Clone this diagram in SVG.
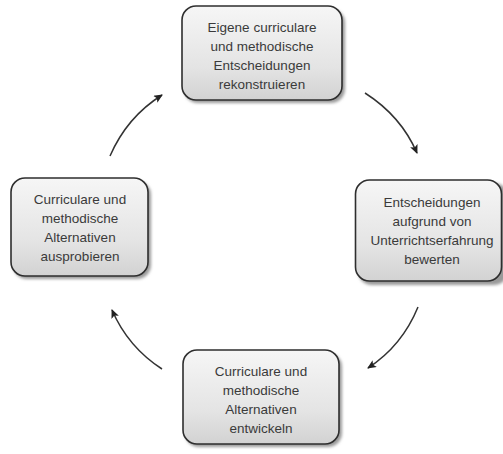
<svg xmlns="http://www.w3.org/2000/svg" width="503" height="454" viewBox="0 0 503 454">
<style>
.box{fill:url(#g);stroke:#2e2e2e;stroke-width:1.6}
.sh{fill:#9a9a9a;filter:url(#blur)}
.t{font-family:"Liberation Sans",Arial,sans-serif;font-size:13.5px;fill:#3a3a3a;text-anchor:middle}
.c{fill:none;stroke:#333;stroke-width:1.5;marker-end:url(#ah)}
</style>
<defs>
<linearGradient id="g" x1="0" y1="0" x2="0" y2="1">
<stop offset="0" stop-color="#f6f6f6"/>
<stop offset="0.65" stop-color="#e4e4e4"/>
<stop offset="1" stop-color="#d2d2d2"/>
</linearGradient>
<filter id="blur" x="-10%" y="-10%" width="130%" height="130%"><feGaussianBlur stdDeviation="1.5"/></filter>
<marker id="ah" markerWidth="10" markerHeight="10" refX="8" refY="4" orient="auto" markerUnits="userSpaceOnUse">
<path d="M0,0 L9,4 L0,8 L2,4 Z" fill="#222"/>
</marker>
</defs>
<g id="connectors">
<path class="c" d="M110,156 Q127,117 162,95"/>
<path class="c" d="M365,93 Q401,116 417,153"/>
<path class="c" d="M418,307 Q402,346 368,368"/>
<path class="c" d="M162,369 Q128,347 112,310"/>
</g>
<g id="n1">
<rect class="sh" x="184" y="9" width="161" height="94" rx="14"/>
<rect class="box" x="182" y="6" width="160" height="94" rx="14"/>
<text class="t" x="262" y="32">Eigene curriculare</text>
<text class="t" x="262" y="51">und methodische</text>
<text class="t" x="262" y="70">Entscheidungen</text>
<text class="t" x="262" y="89">rekonstruieren</text>
</g>
<g id="n2">
<rect class="sh" x="358" y="183" width="150" height="102" rx="14"/>
<rect class="box" x="355.5" y="180" width="146" height="101" rx="14"/>
<text class="t" x="432" y="207">Entscheidungen</text>
<text class="t" x="432" y="226">aufgrund von</text>
<text class="t" x="432" y="245">Unterrichtserfahrung</text>
<text class="t" x="432" y="264">bewerten</text>
</g>
<g id="n3">
<rect class="sh" x="185" y="353" width="157" height="94" rx="14"/>
<rect class="box" x="183" y="350" width="156" height="94" rx="14"/>
<text class="t" x="261" y="376">Curriculare und</text>
<text class="t" x="261" y="395">methodische</text>
<text class="t" x="261" y="414">Alternativen</text>
<text class="t" x="261" y="433">entwickeln</text>
</g>
<g id="n4">
<rect class="sh" x="13" y="181" width="138" height="98" rx="14"/>
<rect class="box" x="11" y="178" width="137" height="98" rx="14"/>
<text class="t" x="80" y="204">Curriculare und</text>
<text class="t" x="80" y="223">methodische</text>
<text class="t" x="80" y="242">Alternativen</text>
<text class="t" x="80" y="261">ausprobieren</text>
</g>
</svg>
